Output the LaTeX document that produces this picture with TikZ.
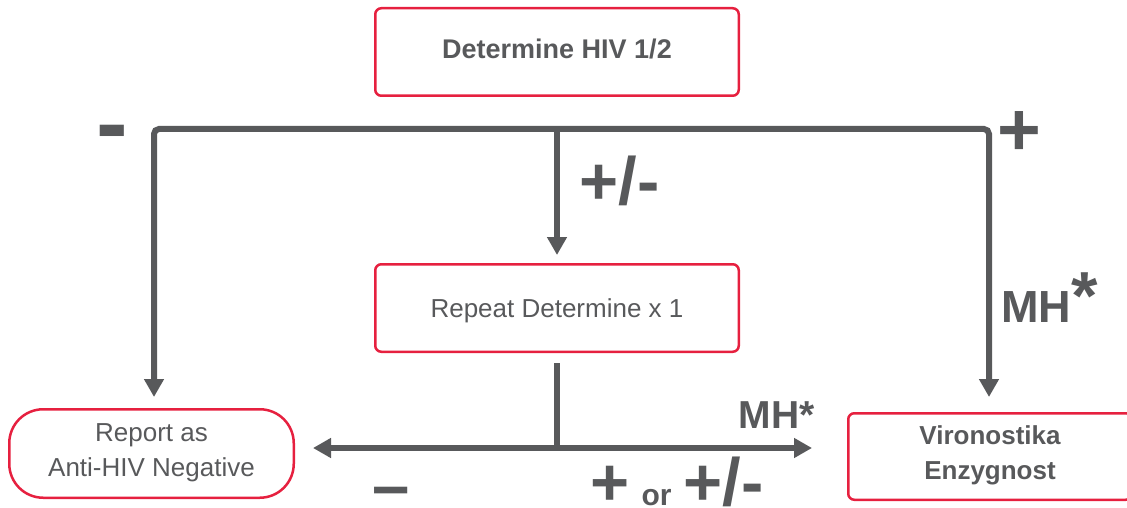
\documentclass[tikz,border=0pt]{standalone}
\usepackage{fontspec}
\setmainfont{Liberation Sans}
\usetikzlibrary{arrows.meta}
\definecolor{fg}{HTML}{58595B}
\definecolor{bred}{HTML}{E6203F}
\newcommand\lnstrut{\rule[-12pt]{0pt}{35pt}}
\begin{document}
\begin{tikzpicture}[x=1pt,y=-1pt,
  box/.style={draw=bred, line width=2.5pt, rounded corners=6pt, minimum width=363.5pt, minimum height=87.5pt, inner sep=0pt, text=fg, align=center},
  conn/.style={draw=fg, line width=6pt},
  tip/.style={-{Triangle[length=18pt,width=19pt]}},
  tips/.style={{Triangle[length=18pt,width=19pt]}-{Triangle[length=18pt,width=19pt]}},
  lbl/.style={text=fg, inner sep=0pt, anchor=base},
]
\useasboundingbox (0,0) rectangle (1127,508);

\node[box, font=\fontsize{27}{32}\selectfont\bfseries, text height=20pt, text depth=6pt] (det) at (557,52) {Determine HIV 1/2};
\node[box, font=\fontsize{26}{32}\selectfont, text height=22pt, text depth=4pt] (rep) at (557,308) {Repeat Determine x 1};
\node[box, rounded corners=34pt, minimum width=284.5pt, minimum height=88.5pt, font=\fontsize{26}{35}\selectfont] (neg) at (151.5,453.5) {\lnstrut Report as\\\lnstrut Anti-HIV Negative};
\node[box, minimum width=283.5pt, minimum height=86.5pt, font=\fontsize{26}{35}\selectfont\bfseries] (vir) at (990,456.5) {\lnstrut Vironostika\\\lnstrut Enzygnost};

\coordinate (tl) at (154,129);
\coordinate (tr) at (989,129);
\coordinate (tm) at (557,129);
\coordinate (j) at (557,448);

\draw[conn, tips, rounded corners=5pt] ([yshift=11pt]neg.north -| tl) -- (tl) -- (tr) -- ([yshift=15pt]vir.north -| tr);
\draw[conn, tip] (tm) -- ([yshift=8pt]rep.north);
\draw[conn] ([yshift=-10pt]rep.south) -- (j);
\draw[conn, tips] ([xshift=18pt]neg.east |- j) -- ([xshift=-35pt]vir.west |- j);

\node[lbl, font=\fontsize{95}{95}\selectfont\bfseries] (mneg) at (112,155) {-};
\node[lbl, font=\fontsize{75}{75}\selectfont\bfseries] (mpos) at (1019.5,156) {+};
\node[lbl, font=\fontsize{67}{67}\selectfont\bfseries] (mamb) at (619.5,204) {+/-};
\node[lbl, anchor=base west, font=\bfseries] (mh1) at (1001,322) {{\fontsize{45}{45}\selectfont MH}\raisebox{3pt}{\fontsize{68}{68}\selectfont *}};
\node[lbl, anchor=base east, font=\fontsize{39}{39}\selectfont\bfseries] (mh2) at (815,428) {MH*};
\node[lbl, font=\fontsize{67}{67}\selectfont\bfseries] (bneg) at (391,508) {–};
\node[lbl, font=\fontsize{67}{67}\selectfont\bfseries] (bpos) at (677,505) {+\hspace{12pt}{\fontsize{30}{30}\selectfont or}\hspace{12pt}+/-};
\end{tikzpicture}
\end{document}
